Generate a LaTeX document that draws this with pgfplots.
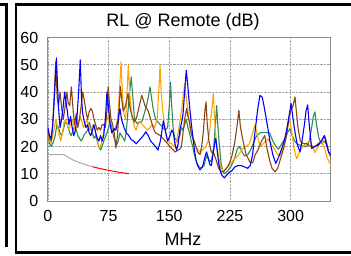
\documentclass[border=0pt]{standalone}
\usepackage{fontspec}
\setmainfont{Liberation Sans}
\usepackage{pgfplots}
\pgfplotsset{compat=1.18}
\definecolor{cBlue}{RGB}{0,0,255}
\definecolor{cOrange}{RGB}{255,165,0}
\definecolor{cGreen}{RGB}{46,139,87}
\definecolor{cBrown}{RGB}{139,69,19}
\definecolor{cLim}{RGB}{170,170,170}
\begin{document}
\begin{tikzpicture}
\begin{axis}[
  scale only axis, width=282.8pt, height=163.5pt,
  xmin=0, xmax=349.5, ymin=0, ymax=60,
  xtick={0,75,150,225,300}, ytick={0,10,20,30,40,50,60},
  major tick length=0pt,
  grid=major,
  grid style={densely dotted, color=gray!70, line width=0.6pt},
  axis line style={color=gray!90, line width=0.8pt},
  /pgf/number format/assume math mode=true,
  tick label style={font=\fontsize{16}{19}\selectfont, inner sep=0pt},
  xticklabel style={anchor=base, yshift=-20pt},
  yticklabel style={anchor=east, xshift=-9.5pt},
  every axis plot/.append style={line width=1.1pt, no markers, line join=round},
  clip=true,
]
% limit lines
\addplot[color=cLim, line width=1pt] coordinates {(0,17) (20,17) (25,16.03) (30,15.24) (35,14.57) (40,13.99) (45,13.48) (50,13.02) (55,12.61)};
\addplot[color=red, line width=1pt] coordinates {(55,12.61) (60,12.23) (65,11.88) (70,11.56) (75,11.26) (80,10.98) (85,10.72) (90,10.47) (95,10.23) (100,10.0)};
% green
\addplot[color=cGreen] coordinates {(0,24) (2,21) (4,20) (7,21.7) (9,24) (11,28) (13,27) (15,25) (17,24) (19,26) (21,28.5) (23,29) (25,27) (27,25) (29,24) (31,26) (33,27.5) (35,26) (37,24) (39,23) (41,22) (43,23) (45,24.5) (47,25) (49,26) (51,29) (53,27) (55,25) (57,23) (59,24) (61,22) (63,20) (65,18.7) (67,20) (69,22) (71,23.5) (73,25) (75,27) (77,29) (79,27) (81,24) (83,22) (85,20.6) (87,22) (89,25) (91,24) (93,23) (95,22) (97,26) (99,33) (101,40) (103,45.5) (105,38) (107,30) (110,28.5) (113,29) (116,29) (119,32) (121,34) (124,38) (126.2,41.9) (128,38) (130,34) (133,30) (136,29) (139,28) (142,27) (145,26) (148,27) (150,35) (151.5,43.7) (153,35) (155,26) (157,23) (160,22) (163,24) (165,27) (167,26) (169,28) (171,30) (173,27) (175,25) (177,22) (179,20) (181,17) (184,14) (187,12.5) (190,12.2) (193,13) (196,16.5) (199,15) (202,14.5) (205,20) (207,28) (208.6,35) (210,28) (212,20) (214,14) (216,11) (218,10) (222,11) (226,12.5) (230,15) (234,19) (237,20) (240,18) (243,16.5) (247,17) (251,19) (255,22) (258,24) (262,25) (268,25.2) (274,25) (278,22) (282,20) (285,19) (289,21) (293,23) (296,25) (299,26.5) (302,24) (305,22) (308,21) (312,20.5) (316,20) (320,20) (323,22) (326,27) (328,31) (330,32.7) (332,28) (335,23) (338,21) (341,22) (344,21) (347,18) (350,16)};
% orange
\addplot[color=cOrange] coordinates {(0,25) (2,22) (4,21) (6,24) (8,27) (10,30) (12,27) (14,24) (16,22) (18,25) (20,29) (22,30) (24,28) (26,26) (28,28) (30,30) (32,28) (34,26) (36,27) (38,29) (40,31) (42,29) (44,27) (46,28) (48,30) (50,28) (52,26) (54,27) (56,28) (58,27) (60,24) (62,21) (64,19.5) (66,21) (68,24) (70,28) (72,30) (74,31) (76,29) (78,27) (80,25) (82,26) (84,27.5) (86,30) (88,38) (90.4,51) (92,40) (94,32) (96,30) (97.5,38) (99.4,50) (101,40) (103,33) (105,30) (107,27) (109,26) (111,28) (114,29) (117,28) (120,27) (123,26) (126,27) (129,28) (132,27) (135,30) (137,40) (138.6,49.8) (140,40) (142,33) (144,28) (146,24) (148,22) (150,21.6) (153,21) (156,20) (159,22) (162,27) (165,33) (167,38) (169,43) (171,38) (173,33) (175,28) (177,25) (180,22) (182,20) (185,19) (188,18) (192,19) (195,20) (198,22) (200,26) (202,32) (204.5,39.4) (206,30) (208,22) (211,16) (214,12) (217,11) (221,12) (225,13.5) (229,15) (233,16) (237,17.5) (241,19.3) (245,20) (249,21) (253,25) (256,28) (259,24) (262,20) (266,21) (272,22.7) (276,21) (280,19) (284,17) (287,16.8) (290,19) (293,23) (296,27) (299,29.8) (302,24) (305,18) (307.5,15.5) (311,18) (315,20) (319,21) (323.5,22) (327,20) (330,17.8) (334,20) (338,22) (341,20) (345,16) (350,12.9)};
% brown
\addplot[color=cBrown] coordinates {(0,26) (2,23) (4,22) (6,28) (8,40) (9.6,51) (11.5,38) (13,35) (15,40) (17,34) (19,30) (21,34) (23.4,40) (25,36) (27,35) (29,41.9) (31,34) (33,28) (35,32) (37,27) (39,30) (41.6,36) (43,40) (45,37) (47,33) (49,30) (51,32.7) (53,34) (55,33) (57,30) (59,28) (61,26) (63,27) (65,26) (67,28) (69,28) (71,27) (73,33) (74.5,42) (76,36) (78,30) (80,28) (82,25) (84,19.5) (86,24) (88,34) (89.5,42) (91,38) (93,33) (96,35) (99,39.5) (101,35) (104,31) (107,29) (110,31) (113,35) (116,38.8) (118,37) (120,35) (122,34) (124,33) (127,30) (130,27) (133,25) (136,24.5) (139,24) (142,23) (145,22) (148,21) (151,20) (154,19) (157,18) (160,18.5) (163,19) (165,20) (167,25) (169,30) (171.5,34) (173,31) (175,29) (177,25) (179,23) (181,22) (183,20) (185,18) (188,17) (190,20) (192,25) (194,33) (195.4,36.4) (197,28) (199,22) (202,18) (205,17.5) (208,15) (211,12) (214.7,10.7) (218,11) (223,13) (227,16) (231,21.6) (234,28) (236,33.3) (238,27) (241.5,21.6) (245,17) (249.6,14.4) (253,14) (256,16.8) (260,19) (264,22) (268,24) (271,19) (274,15) (277,12) (280.7,10.7) (284,12) (288,16) (292,20) (295,24) (298,31) (300,33) (303,35) (305.4,38.2) (307,33) (309,27) (312,22) (316,21) (320,21) (325,20) (330,20) (334,21) (338,22) (341.7,24) (344,22) (347,18) (350,15.7)};
% blue
\addplot[color=cBlue] coordinates {(0,27) (2,24) (4,23) (6,28) (8,38) (10.5,52.5) (13,35) (15,27) (17,30) (19,35) (20.7,40) (22.5,36) (24,33) (26,28) (28,31) (30,27) (32,24) (34,26) (36,31) (38,40) (40,51.8) (41.5,38) (43,32) (45,29) (47,27) (49,28) (51,25) (53,24) (55,26) (57,28) (59,25) (61,23) (63,22) (65,24) (67,22) (69,24) (71,30) (73,40) (75,34) (77,28) (79,25) (82,26.5) (84,26) (87,30) (89,34) (91,30) (94,27) (97,25) (100,24) (103,22.5) (106,22) (109,21) (112,22) (115,23) (118,24) (121,25.4) (124,24) (127,22) (130,21) (133,20) (136,18.7) (139,22) (142.7,29.4) (145,26) (148,22) (151,24) (153,26) (155,25) (157,21) (159,18.6) (161,21) (163,26) (165.4,29) (167,32) (169,40) (171,48) (173,42) (175,35) (177,29) (179,24) (181,19) (183,15) (185,13) (188,11.4) (191,12.5) (194,16) (196,18) (198,16) (200,13.5) (202,13) (204,17) (206,21) (207.5,23) (209,19) (211,14) (213,11) (215,9.5) (218,8.5) (221,9.5) (224,10.5) (227,11) (231,12.5) (235,13) (239,13) (243,12.5) (247,12) (250,13) (253,17) (256,25.5) (259,33) (262,38.8) (265,38) (267,35) (270,30) (272.5,25.5) (275,21) (278,17) (281.6,13.8) (285,16) (289,19.3) (292,22) (295,26) (298,31) (300.5,35.9) (303,30) (305.5,25) (308,21) (311.6,18) (314,22) (317,28) (319,33) (321,35.3) (323,28) (326,19.3) (330,20) (334,20.5) (338,22) (341.7,24) (344,21) (347,18) (350,16.8)};
\end{axis}
\pgfresetboundingbox
\path[use as bounding box] (-47.9pt,-54pt) rectangle (303.1pt,201pt);
\begin{scope}[shift={(-47.9pt,-54pt)}, x=1pt, y=1pt]
\draw[line width=2.2pt] (15.8,2.5) rectangle (360,250.5);
\draw[line width=2.2pt] (-5,250.5) -- (6.5,250.5) -- (6.5,8);
\node[anchor=base, font=\fontsize{18}{21}\selectfont] at (183,229) {RL @ Remote (dB)};
\node[anchor=base, font=\fontsize{18}{21}\selectfont] at (183,10) {MHz};
\end{scope}
\end{tikzpicture}
\end{document}
